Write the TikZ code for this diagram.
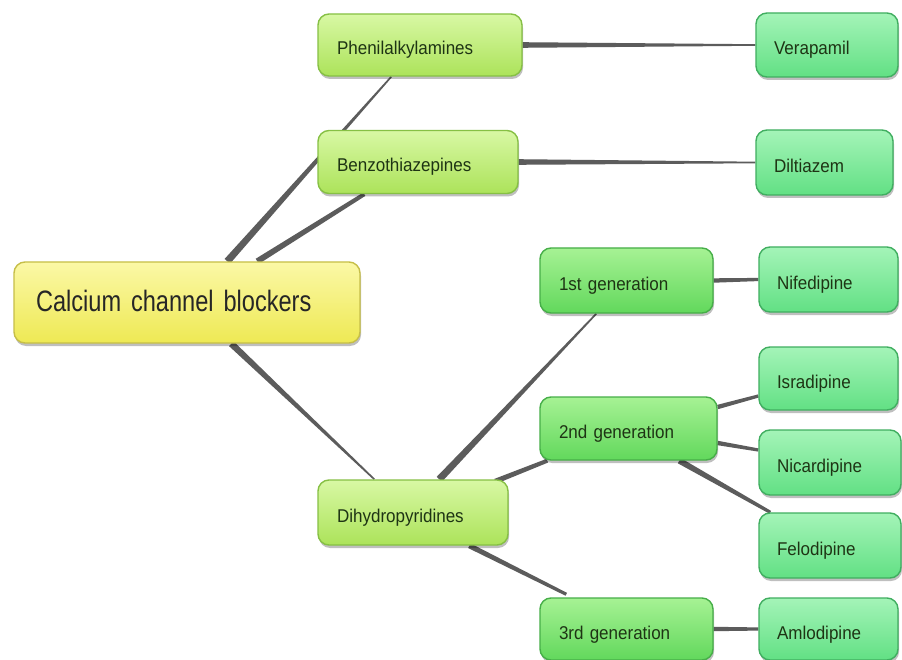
\documentclass[tikz,border=0pt]{standalone}
\usepackage{fontspec}
\setmainfont{Liberation Sans}
\newfontfamily\nodefont{Liberation Sans}[FakeStretch=0.92, WordSpace=0.8]
\newfontfamily\rootfont{Liberation Sans}[FakeStretch=0.8, WordSpace=0.55]
\usetikzlibrary{calc,shadows}
\pgfdeclarelayer{bg}
\pgfsetlayers{bg,main}
\definecolor{conncol}{HTML}{5C5C5C}
\definecolor{txtcol}{HTML}{1E3414}
\definecolor{roottop}{HTML}{FBF8A6}
\definecolor{rootbot}{HTML}{EEE954}
\definecolor{rootline}{HTML}{C6BE48}
\definecolor{lonetop}{HTML}{D8F8A4}
\definecolor{lonebot}{HTML}{ACE35A}
\definecolor{loneline}{HTML}{86C044}
\definecolor{gentop}{HTML}{A6F294}
\definecolor{genbot}{HTML}{62D85C}
\definecolor{genline}{HTML}{46AE48}
\definecolor{drugtop}{HTML}{A4F4B8}
\definecolor{drugbot}{HTML}{62E084}
\definecolor{drugline}{HTML}{40AE60}
\newcommand{\taper}[4]{\fill[conncol] ($(#1)!#3!90:(#2)$) -- ($(#2)!#4!-90:(#1)$) -- ($(#2)!#4!90:(#1)$) -- ($(#1)!#3!-90:(#2)$) -- cycle;}
\tikzset{
  basebox/.style={rounded corners=11pt, line width=1.4pt, inner xsep=19pt, inner ysep=2pt,
    align=left, text=txtcol, font=\nodefont\fontsize{18.5}{21}\selectfont,
    text height=22pt, text depth=2pt,
    drop shadow={shadow xshift=1pt, shadow yshift=-3pt, opacity=0.25, fill=black}},
  rootbox/.style={basebox, inner xsep=22pt, minimum height=81pt, top color=roottop, bottom color=rootbot, draw=rootline,
    text height=24pt, text depth=6pt,
    font=\rootfont\fontsize{29.5}{33}\selectfont, text=black!85},
  lonebox/.style={basebox, top color=lonetop, bottom color=lonebot, draw=loneline},
  genbox/.style={basebox, top color=gentop, bottom color=genbot, draw=genline},
  drugbox/.style={basebox, inner xsep=18pt, top color=drugtop, bottom color=drugbot, draw=drugline},
}
\begin{document}
\begin{tikzpicture}[x=1pt,y=-1pt]
\useasboundingbox (0,0) rectangle (902,660);
% nodes
\node[rootbox, text width=302pt] (root) at (187,302.5) {Calcium channel blockers};
\node[lonebox, text width=166pt, minimum height=62pt] (phen) at (420,45) {Phenilalkylamines};
\node[lonebox, text width=162pt, minimum height=63pt] (benz) at (418,162) {Benzothiazepines};
\node[lonebox, text width=152pt, minimum height=65pt] (dihy) at (413,512.5) {Dihydropyridines};
\node[genbox, text width=135pt, minimum height=65pt] (gen1) at (626.5,280.5) {1st generation};
\node[genbox, text width=139pt, minimum height=63pt] (gen2) at (628.5,428.5) {2nd generation};
\node[genbox, text width=135pt, minimum height=62pt] (gen3) at (626.5,629) {3rd generation};
\node[drugbox, text width=106pt, minimum height=64pt] (vera) at (827,45) {Verapamil};
\node[drugbox, text width=101pt, minimum height=65pt] (dilt) at (824.5,162.5) {Diltiazem};
\node[drugbox, text width=103pt, minimum height=65pt] (nife) at (828.5,279.5) {Nifedipine};
\node[drugbox, text width=103pt, minimum height=63pt] (isra) at (828.5,378.5) {Isradipine};
\node[drugbox, text width=106pt, minimum height=65pt] (nica) at (830,462.5) {Nicardipine};
\node[drugbox, text width=106pt, minimum height=65pt] (felo) at (830,545.5) {Felodipine};
\node[drugbox, text width=103pt, minimum height=62pt] (amlo) at (828.5,629) {Amlodipine};
% connector ends
\coordinate (rP) at ([xshift=214pt]root.north west);
\coordinate (pR) at ([xshift=74pt]phen.south west);
\coordinate (rB) at ([xshift=244pt]root.north west);
\coordinate (bR) at ([xshift=47pt]benz.south west);
\coordinate (rD) at ([xshift=218pt]root.south west);
\coordinate (dR) at ([xshift=57pt]dihy.north west);
\coordinate (d1) at ([xshift=122pt]dihy.north west);
\coordinate (g1d) at ([xshift=57pt]gen1.south west);
\coordinate (d2) at ([xshift=178pt,yshift=-2pt]dihy.north west);
\coordinate (g2d) at ([xshift=8pt]gen2.south west);
\coordinate (d3) at ([xshift=152pt]dihy.south west);
\coordinate (g3d) at ([xshift=27pt,yshift=3pt]gen3.north west);
\coordinate (g2i) at ([yshift=21.5pt]gen2.east);
\coordinate (ig) at ([yshift=-17.5pt]isra.west);
\coordinate (g2n) at ([yshift=-14.5pt]gen2.east);
\coordinate (ng) at ([yshift=12.5pt]nica.west);
\coordinate (g2f) at ([xshift=140pt]gen2.south west);
\coordinate (fg) at ([xshift=12pt]felo.north west);
\begin{pgfonlayer}{bg}
\fill[white] (0,0) rectangle (902,660);
\taper{rP}{pR}{3.6pt}{0.8pt}
\taper{rB}{bR}{3pt}{2pt}
\taper{rD}{dR}{3.3pt}{0.8pt}
\taper{d1}{g1d}{3.6pt}{0.8pt}
\taper{d2}{g2d}{2.6pt}{2pt}
\taper{d3}{g3d}{2.6pt}{1.6pt}
\taper{phen.east}{vera.west}{2.8pt}{0.8pt}
\taper{benz.east}{dilt.west}{2.8pt}{0.8pt}
\taper{gen1.east}{nife.west}{2.2pt}{1.6pt}
\taper{g2i}{ig}{2.2pt}{1.6pt}
\taper{g2n}{ng}{2.2pt}{1.6pt}
\taper{g2f}{fg}{3pt}{1.6pt}
\taper{gen3.east}{amlo.west}{2.2pt}{1.6pt}
\end{pgfonlayer}
\end{tikzpicture}
\end{document}
